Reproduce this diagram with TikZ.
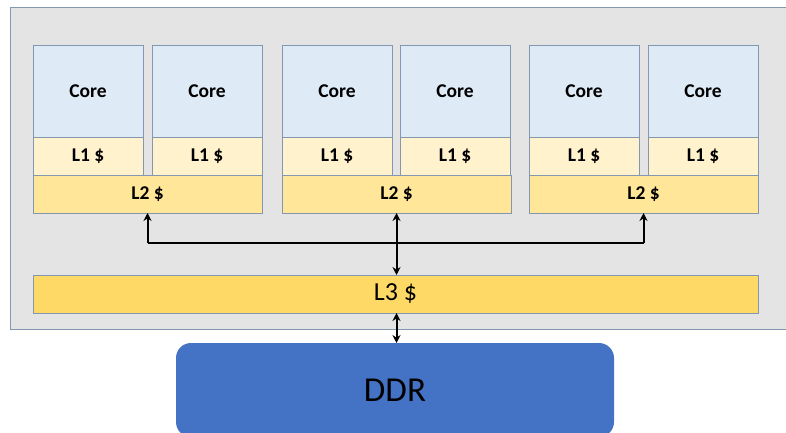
\documentclass[tikz,border=0pt]{standalone}
\usepackage{fontspec}
\setmainfont{Carlito}
\usetikzlibrary{arrows.meta}
\definecolor{chipgray}{HTML}{E4E4E4}
\definecolor{edgeblue}{HTML}{8497B0}
\definecolor{corefill}{HTML}{DEEBF7}
\definecolor{lonefill}{HTML}{FFF2CC}
\definecolor{ltwofill}{HTML}{FFE699}
\definecolor{lthreefill}{HTML}{FFD966}
\definecolor{ddrfill}{HTML}{4472C4}

\begin{document}
\begin{tikzpicture}[x=1pt, y=-1pt,
    box/.style={draw=edgeblue, line width=.8pt, inner sep=0, outer sep=0, anchor=north west},
    corebox/.style={box, fill=corefill, minimum width=110, minimum height=92, font=\fontsize{19.5}{22}\selectfont\bfseries},
    lonebox/.style={box, fill=lonefill, minimum width=110, minimum height=38, font=\fontsize{19.5}{22}\selectfont\bfseries},
    ltwobox/.style={box, fill=ltwofill, minimum width=229, minimum height=38, font=\fontsize{19.5}{22}\selectfont\bfseries},
    arr/.style={line width=2pt, -{Stealth[length=8pt, width=8pt]}},
    arrs/.style={line width=2pt, {Stealth[length=8pt, width=8pt]}-{Stealth[length=8pt, width=8pt]}}]
    \useasboundingbox (0,0) rectangle (786,433);
    \fill[chipgray] (10,7) rectangle (790,329);
    \draw[edgeblue, line width=.8pt] (790,7) -- (10,7) -- (10,329) -- (790,329);

    \node [corebox] (c1) at (33, 45) {Core};
    \node [corebox] (c2) at (152, 45) {Core};
    \node [corebox] (c3) at (282, 45) {Core};
    \node [corebox] (c4) at (400, 45) {Core};
    \node [corebox] (c5) at (529, 45) {Core};
    \node [corebox] (c6) at (648, 45) {Core};
    \node [lonebox] (a1) at (33, 137) {L1 \$};
    \node [lonebox] (a2) at (152, 137) {L1 \$};
    \node [lonebox] (a3) at (282, 137) {L1 \$};
    \node [lonebox] (a4) at (400, 137) {L1 \$};
    \node [lonebox] (a5) at (529, 137) {L1 \$};
    \node [lonebox] (a6) at (648, 137) {L1 \$};
    \node [ltwobox] (b1) at (33, 175) {L2 \$};
    \node [ltwobox] (b2) at (282, 175) {L2 \$};
    \node [ltwobox] (b3) at (529, 175) {L2 \$};

    \node [box, fill=lthreefill, minimum width=725, minimum height=38,
      font=\fontsize{26}{30}\selectfont] (l3) at (33, 275) {L3 \$};
    \node [box, draw=none, fill=ddrfill, rounded corners=15pt, minimum width=438,
      minimum height=94, font=\fontsize{35}{40}\selectfont] (ddr) at (176, 343) {DDR};

    \coordinate (j1) at (b1.south |- 0,243);
    \coordinate (j3) at (b3.south |- 0,243);
    \draw [line width=2pt] (j1) -- (j3);
    \draw [arr] (j1) -- (b1.south);
    \draw [arr] (j3) -- (b3.south);
    \draw [arrs] (b2.south) -- (b2.south |- l3.north);
    \draw [arrs] (b2.south |- l3.south) -- (b2.south |- ddr.north);
\end{tikzpicture}
\end{document}
